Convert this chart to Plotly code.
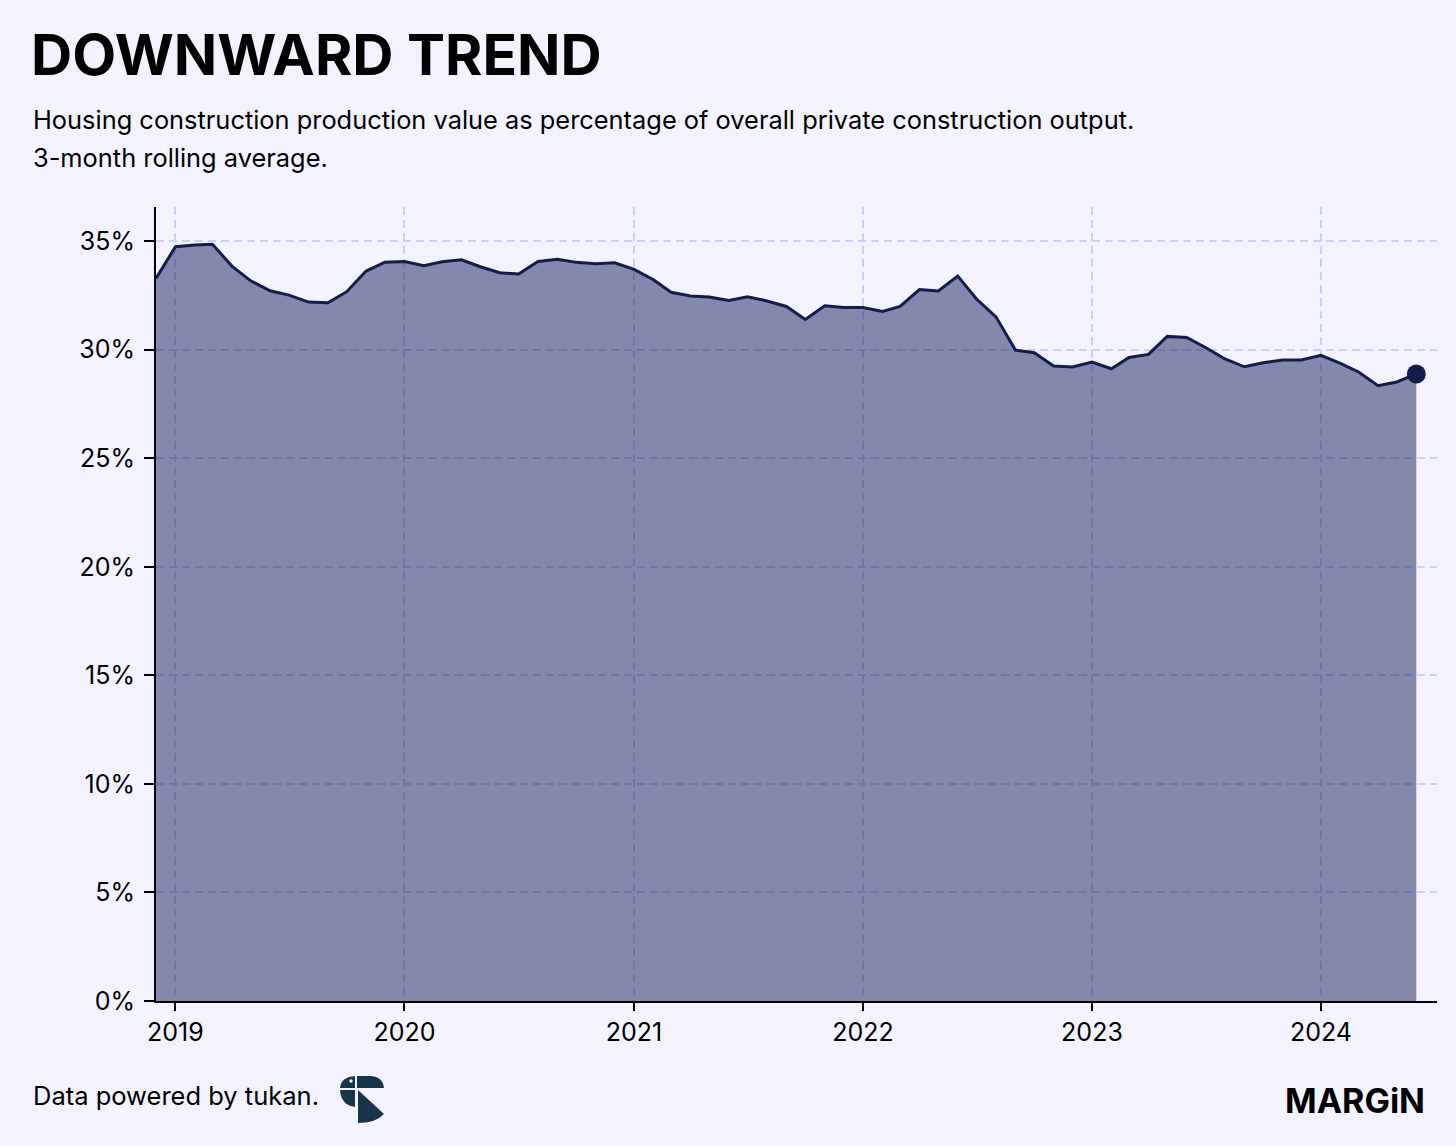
import pandas as pd
import plotly.graph_objects as go

# ---------------- data ----------------
start_month = "2018-12-01"
n_months = 67
months = pd.date_range(start_month, periods=n_months, freq="MS")

share_2018 = [33.28]
share_2019 = [34.74, 34.82, 34.85, 33.85, 33.17, 32.71, 32.51, 32.19, 32.16, 32.67, 33.62, 34.03]
share_2020 = [34.06, 33.87, 34.05, 34.14, 33.82, 33.54, 33.48, 34.06, 34.16, 34.02, 33.96, 34.00]
share_2021 = [33.70, 33.22, 32.64, 32.47, 32.42, 32.27, 32.44, 32.24, 31.99, 31.39, 32.02, 31.94]
share_2022 = [31.94, 31.76, 31.99, 32.77, 32.70, 33.39, 32.33, 31.51, 29.98, 29.86, 29.25, 29.20]
share_2023 = [29.43, 29.12, 29.64, 29.78, 30.61, 30.56, 30.10, 29.57, 29.21, 29.40, 29.52, 29.52]
share_2024 = [29.74, 29.37, 28.97, 28.34, 28.51, 28.88]
housing_share = share_2018 + share_2019 + share_2020 + share_2021 + share_2022 + share_2023 + share_2024

y_ticks = [0, 5, 10, 15, 20, 25, 30, 35]
x_ticks = ["2019-01-01", "2020-01-01", "2021-01-01", "2022-01-01", "2023-01-01", "2024-01-01"]
x_tick_labels = ["2019", "2020", "2021", "2022", "2023", "2024"]

title_text = "DOWNWARD TREND"
subtitle_1 = "Housing construction production value as percentage of overall private construction output."
subtitle_2 = "3-month rolling average."
footer_text = "Data powered by tukan."
brand_text = "MARGiN"

# ---------------- style ----------------
W, H = 1456, 1146
ML, MR, MT, MB = 156, 19, 207, 145
PW, PH = W - ML - MR, H - MT - MB
BG = "#F3F3FF"
NAVY = "#141B4D"
FILL = "rgba(22,30,90,0.5)"
GRID = "#CACDFF"
LOGO = "#17344B"
FONT = "Inter"


def px(x, y):
    return (x - ML) / PW, (H - MB - y) / PH


def path(cmds):
    out = []
    for c in cmds:
        if isinstance(c, str):
            out.append(c)
        else:
            a, b = px(*c)
            out.append(f"{a:.5f},{b:.5f}")
    return " ".join(out)


fig = go.Figure()
fig.add_trace(go.Scatter(
    x=months, y=housing_share, mode="lines",
    line=dict(color=NAVY, width=3),
    fill="tozeroy", fillcolor=FILL,
    hoverinfo="skip", showlegend=False,
))
fig.add_trace(go.Scatter(
    x=[months[-1]], y=[housing_share[-1]], mode="markers",
    marker=dict(color=NAVY, size=19, line=dict(width=0)),
    hoverinfo="skip", showlegend=False,
))

fig.update_layout(
    width=W, height=H,
    margin=dict(l=ML, r=MR, t=MT, b=MB),
    paper_bgcolor=BG, plot_bgcolor=BG,
    font=dict(family=FONT, color="#000000"),
    xaxis=dict(
        range=["2018-12-01", "2024-07-04"],
        tickvals=x_ticks, ticktext=x_tick_labels,
        ticks="outside", ticklen=8, tickwidth=2, tickcolor="#000",
        showline=True, linecolor="#000", linewidth=2,
        showgrid=True, gridcolor=GRID, gridwidth=1.5, griddash="8px,5px",
        tickfont=dict(size=25, family=FONT, color="#000"),
        zeroline=False,
    ),
    yaxis=dict(
        range=[0, 36.57],
        tickvals=y_ticks, ticktext=[f"{v}%" for v in y_ticks],
        ticks="outside", ticklen=10, tickwidth=2, tickcolor="#000",
        showline=True, linecolor="#000", linewidth=2,
        showgrid=True, gridcolor=GRID, gridwidth=1.5, griddash="8px,5px",
        tickfont=dict(size=25, family=FONT, color="#000"),
        zeroline=False, ticklabelstandoff=4,
    ),
)

ann = []
def add_text(text, x, y, size, bold=False, xanchor="left"):
    a, b = px(x, y)
    ann.append(dict(
        text=f"<b>{text}</b>" if bold else text,
        x=a, y=b, xref="paper", yref="paper",
        xanchor=xanchor, yanchor="middle", showarrow=False,
        font=dict(size=size, family=FONT, color="#000"),
    ))

add_text(title_text, 29, 54, 57, bold=True)
add_text(subtitle_1, 31, 119, 25.4)
add_text(subtitle_2, 31, 157, 25.4)
add_text(footer_text, 31, 1095, 25.5)
add_text(brand_text, 1427, 1100, 34, bold=True, xanchor="right")
fig.update_layout(annotations=ann)

# tukan logo
shapes = []
logo_paths = [
    ["M", (340, 1088), "Q", (341, 1077), (355, 1076), "L", (355, 1088), "Z"],
    ["M", (357, 1076), "L", (371, 1076), "Q", (383, 1077), (384, 1088), "L", (357, 1088), "Z"],
    ["M", (340, 1090), "L", (355, 1090), "L", (355, 1107), "Q", (341, 1105), (340, 1090), "Z"],
    ["M", (358, 1090), "L", (384, 1114), "Q", (376, 1123), (358, 1123), "Z"],
]
for p in logo_paths:
    shapes.append(dict(type="path", path=path(p), xref="paper", yref="paper",
                       fillcolor=LOGO, line=dict(width=0), layer="above"))
cx, cy = 351, 1081
a0, b0 = px(cx - 1.7, cy + 1.7)
a1, b1 = px(cx + 1.7, cy - 1.7)
shapes.append(dict(type="circle", xref="paper", yref="paper", x0=a0, y0=b0, x1=a1, y1=b1,
                   fillcolor="#FFFFFF", line=dict(width=0), layer="above"))
fig.update_layout(shapes=shapes)

fig.write_html(
    "out.html",
    config={"displayModeBar": False},
    post_script="document.body.style.margin='0';document.body.style.overflow='hidden';",
)
